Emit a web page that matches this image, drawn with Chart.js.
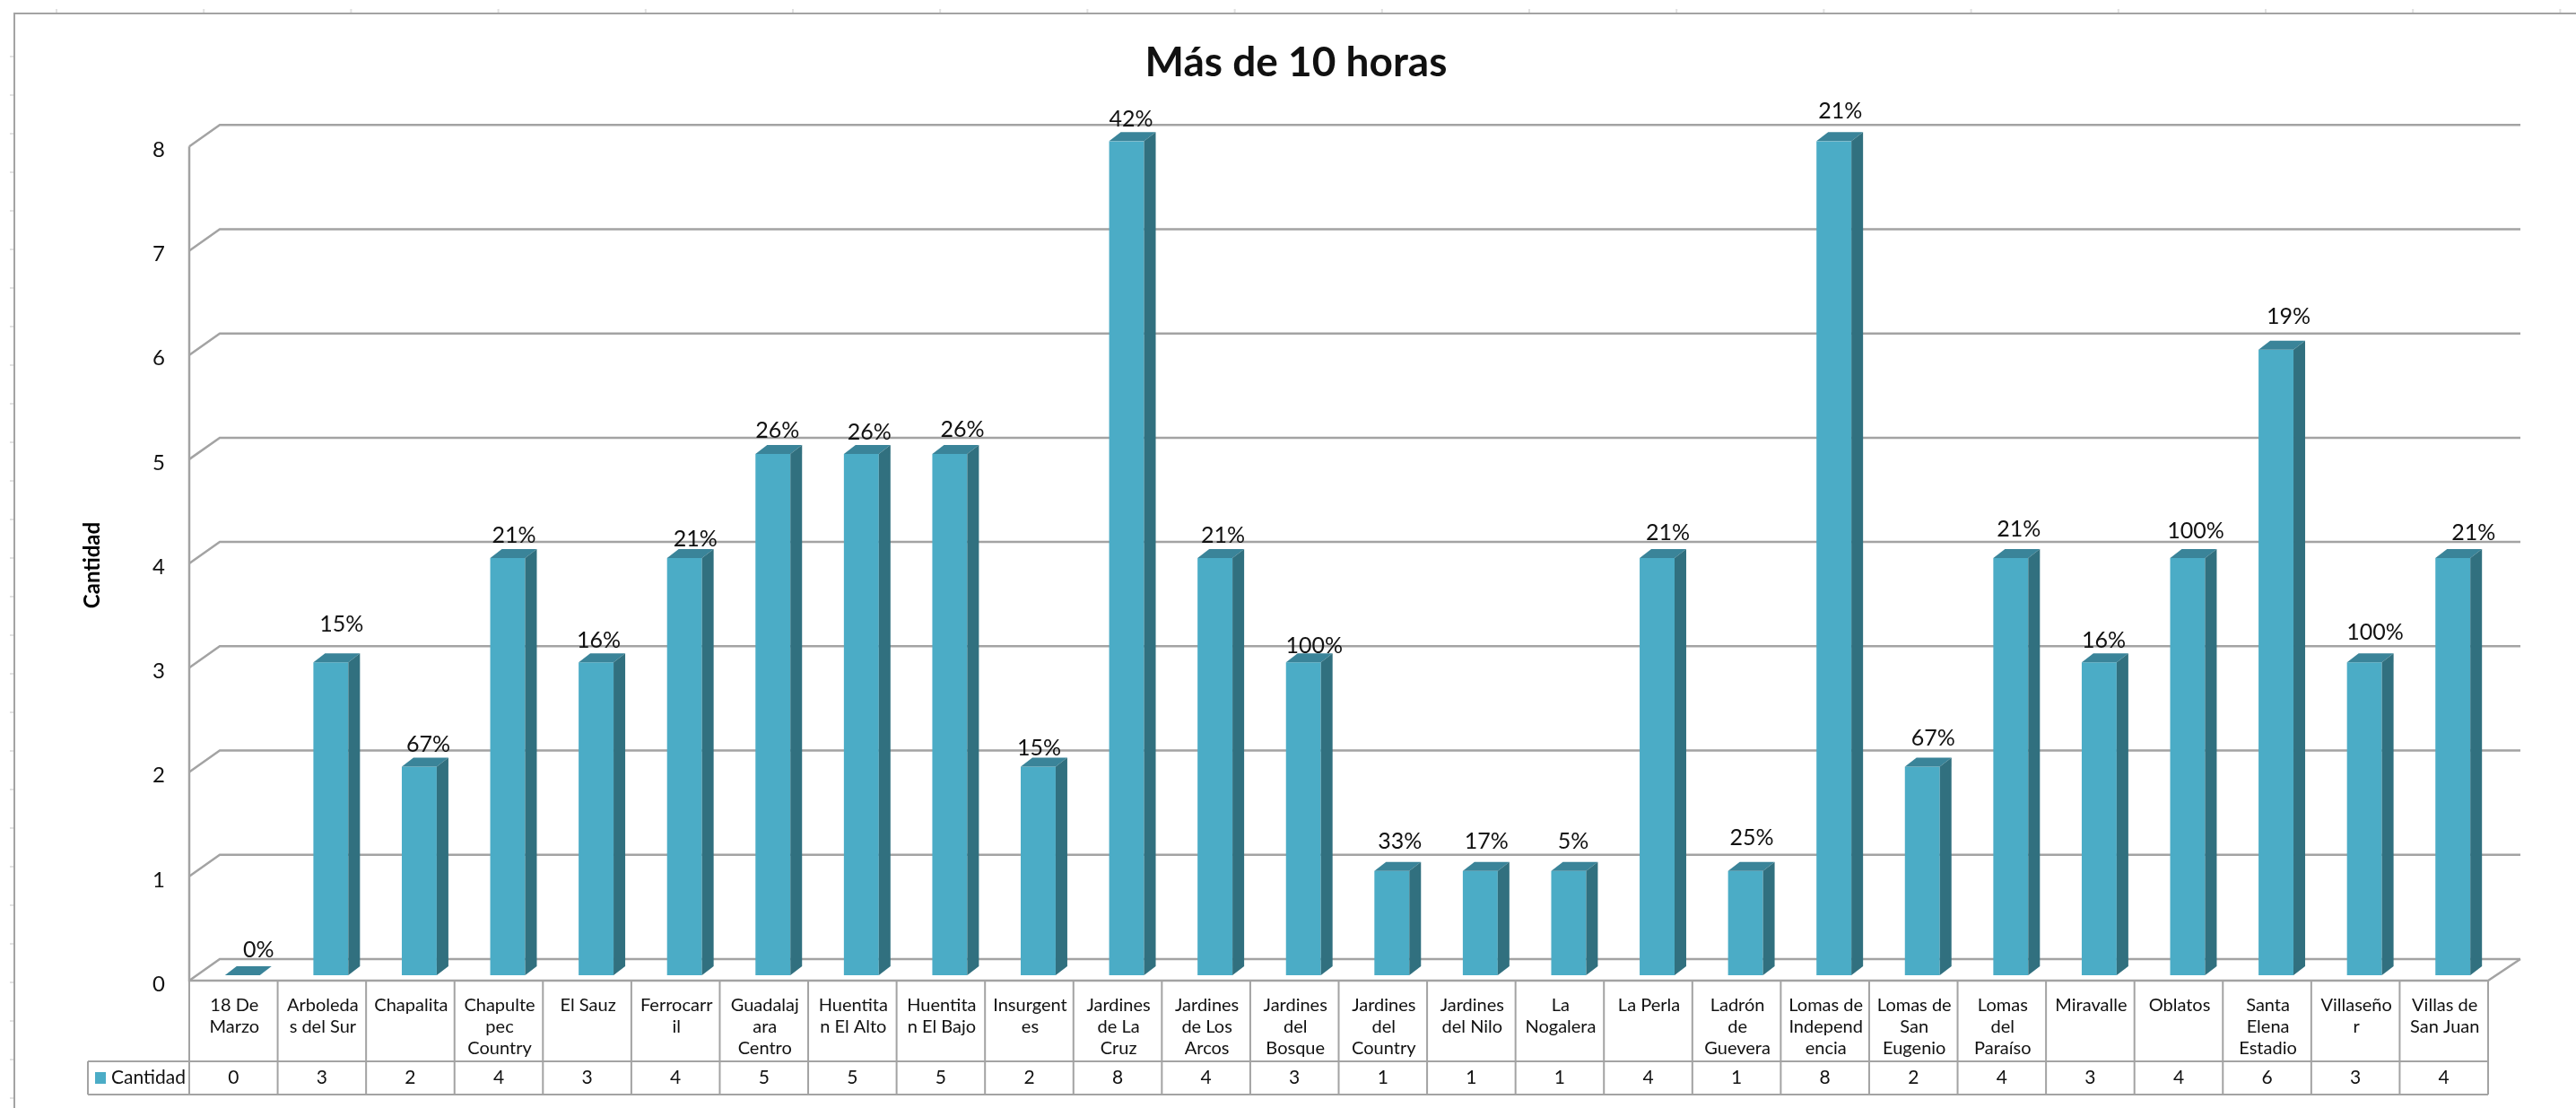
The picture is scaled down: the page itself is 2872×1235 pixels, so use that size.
<!DOCTYPE html>
<html><head><meta charset="utf-8">
<style>html,body{margin:0;padding:0;background:#fff}#w{width:2872px;height:1235px}</style>
<script src="https://cdn.jsdelivr.net/npm/chart.js@4"></script></head>
<body><div id="w"><canvas id="c" width="2872" height="1235"></canvas></div>
<script>
const categories=[["18 De","Marzo"],["Arboleda","s del Sur"],["Chapalita"],["Chapulte","pec","Country"],["El Sauz"],["Ferrocarr","il"],["Guadalaj","ara","Centro"],["Huentita","n El Alto"],["Huentita","n El Bajo"],["Insurgent","es"],["Jardines","de La","Cruz"],["Jardines","de Los","Arcos"],["Jardines","del","Bosque"],["Jardines","del","Country"],["Jardines","del Nilo"],["La","Nogalera"],["La Perla"],["Ladrón","de","Guevera"],["Lomas de","Independ","encia"],["Lomas de","San","Eugenio"],["Lomas","del","Paraíso"],["Miravalle"],["Oblatos"],["Santa","Elena","Estadio"],["Villaseño","r"],["Villas de","San Juan"]];
const cantidad=[0,3,2,4,3,4,5,5,5,2,8,4,3,1,1,1,4,1,8,2,4,3,4,6,3,4];
const percentLabels=["0%","15%","67%","21%","16%","21%","26%","26%","26%","15%","42%","21%","100%","33%","17%","5%","21%","25%","21%","67%","21%","16%","100%","19%","100%","21%"];
const yTicks=[0,1,2,3,4,5,6,7,8];
const seriesName="Cantidad",chartTitle="Más de 10 horas";
const labelLift=[28,42,25,25,24,21,26,24,27,21,24,25,18,33,33,33,28,37,33,32,32,24,30,37,33,28];
const labelShift=[13,7,5,2,-2,7,0,4,9,-4,0,4,7,4,2,0,7,2,2,7,4,0,4,9,7,18];
const FONT="Lato, sans-serif",LINE="#a3a3a3",TXT="#111";
const cube3d={id:'cube3d',
 beforeDatasetsDraw(ch){const {ctx,scales:{x,y}}=ch;ctx.save();ctx.strokeStyle=LINE;ctx.lineWidth=2.5;
  const fl=x.left-10,fr=x.right-10,bl=x.left+24,br=x.right+26,fdy=6,bdy=-18;
  yTicks.forEach(v=>{const p=y.getPixelForValue(v);ctx.beginPath();ctx.moveTo(fl,p+fdy);ctx.lineTo(bl,p+bdy);ctx.lineTo(br,p+bdy);ctx.stroke();});
  ctx.beginPath();ctx.moveTo(fl,y.getPixelForValue(8)+fdy);ctx.lineTo(fl,y.getPixelForValue(0)+fdy);ctx.lineTo(fr,y.getPixelForValue(0)+fdy);ctx.lineTo(br,y.getPixelForValue(0)+bdy);ctx.stroke();
  ctx.restore();},
 afterDatasetsDraw(ch){const {ctx,scales:{x,y}}=ch;const meta=ch.getDatasetMeta(0);ctx.save();
  const ddx=13,ddy=-10;
  meta.data.forEach((b,i)=>{const l=b.x-b.width/2,r=b.x+b.width/2,t=b.y,bt=b.base;
   ctx.fillStyle='#3a8499';ctx.beginPath();ctx.moveTo(l,t);ctx.lineTo(r,t);ctx.lineTo(r+ddx,t+ddy);ctx.lineTo(l+ddx,t+ddy);ctx.closePath();ctx.fill();
   if(cantidad[i]>0){ctx.fillStyle='#31707f';ctx.beginPath();ctx.moveTo(r,t);ctx.lineTo(r+ddx,t+ddy);ctx.lineTo(r+ddx,bt+ddy);ctx.lineTo(r,bt);ctx.closePath();ctx.fill();}
   ctx.fillStyle=TXT;ctx.font='25px '+FONT;ctx.textAlign='center';ctx.textBaseline='middle';
   ctx.fillText(percentLabels[i],b.x+5+labelShift[i],t-labelLift[i]);});
  /* data table */
  ctx.strokeStyle=LINE;ctx.lineWidth=2;
  const fl=x.left-10,fr=x.right-10,y0=y.getPixelForValue(0)+6,t1=1183,t2=1220,tl=98;
  const step=(fr-fl)/categories.length;
  ctx.beginPath();
  for(let i=0;i<=categories.length;i++){ctx.moveTo(fl+i*step,y0);ctx.lineTo(fl+i*step,t2);}
  ctx.moveTo(tl,t1);ctx.lineTo(fr,t1);ctx.moveTo(tl,t2);ctx.lineTo(fr,t2);ctx.moveTo(tl,t1);ctx.lineTo(tl,t2);ctx.stroke();
  ctx.fillStyle=TXT;ctx.font='21px '+FONT;ctx.textBaseline='middle';ctx.textAlign='center';
  cantidad.forEach((v,i)=>ctx.fillText(String(v),fl+(i+.5)*step,(t1+t2)/2));
  ctx.fillStyle='#4bacc6';ctx.fillRect(106,1195,12,13);
  ctx.fillStyle=TXT;ctx.textAlign='left';ctx.fillText(seriesName,124,(t1+t2)/2);
  /* axis title */
  ctx.save();ctx.translate(103,630);ctx.rotate(-Math.PI/2);ctx.fillStyle='#000';ctx.font='bold 24px '+FONT;ctx.textAlign='center';ctx.fillText(seriesName,0,0);ctx.restore();
  /* outer frame with its faint notches */
  ctx.strokeStyle='#e2e2e2';ctx.lineWidth=2;ctx.beginPath();
  for(let px=63;px<2872;px+=164.2){ctx.moveTo(px,10);ctx.lineTo(px,15);}
  for(let py=63;py<1235;py+=43){ctx.moveTo(11,py);ctx.lineTo(16,py);}
  ctx.stroke();
  ctx.strokeStyle=LINE;ctx.lineWidth=2;ctx.beginPath();ctx.moveTo(16,1235);ctx.lineTo(16,15);ctx.lineTo(2872,15);ctx.stroke();
  ctx.restore();}
};
new Chart(document.getElementById('c'),{type:'bar',plugins:[cube3d],
 data:{labels:categories,datasets:[{label:seriesName,data:cantidad,backgroundColor:'#4bacc6',barPercentage:.395,categoryPercentage:1}]},
 options:{responsive:false,animation:false,
  layout:{padding:{left:106,right:88,top:0,bottom:0}},
  plugins:{legend:{display:false},tooltip:{enabled:false},
   title:{display:true,text:chartTitle,color:'#111',font:{family:FONT,size:46,weight:'bold'},padding:{top:43,bottom:59}}},
  scales:{
   x:{grid:{display:false},border:{display:false},afterFit(s){s.height=148;},
      ticks:{autoSkip:false,maxRotation:0,minRotation:0,color:TXT,padding:14,font:{family:FONT,size:20,lineHeight:1.2},labelOffset:-9}},
   y:{min:0,max:8,grid:{display:false},border:{display:false},afterFit(s){s.width=115;},
      ticks:{stepSize:1,color:TXT,padding:29,labelOffset:10,font:{family:FONT,size:24}}}
  }}});
</script></body></html>
